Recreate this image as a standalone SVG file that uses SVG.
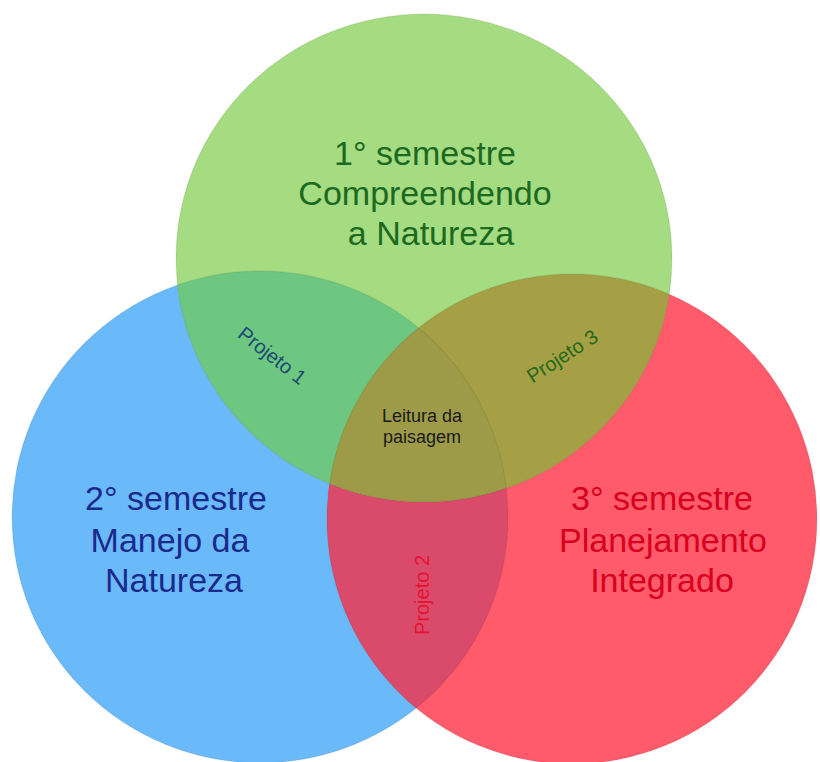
<svg xmlns="http://www.w3.org/2000/svg" width="820" height="762" viewBox="0 0 820 762">
  <style>
    .big { font-family: "Liberation Sans", "Noto Sans", sans-serif; font-size: 34px; text-anchor: middle; }
    .small { font-family: "Liberation Sans", "Noto Sans", sans-serif; font-size: 18px; text-anchor: middle; }
    .proj { font-family: "Liberation Sans", "Noto Sans", sans-serif; font-size: 20px; text-anchor: middle; }
    .edge { fill: none; stroke: #000; stroke-opacity: 0.06; stroke-width: 1.5; }
  </style>
  <defs>
    <ellipse id="cG" cx="424" cy="258" rx="248" ry="244"/>
    <ellipse id="cB" cx="260" cy="517" rx="248" ry="246"/>
    <ellipse id="cR" cx="572" cy="519" rx="245" ry="245"/>
    <clipPath id="clipB"><use href="#cB"/></clipPath>
    <clipPath id="clipR"><use href="#cR"/></clipPath>
  </defs>
  <rect width="820" height="762" fill="#ffffff"/>

  <g id="circles">
    <use href="#cB" fill="#6ab9f9"/>
    <use href="#cR" fill="#ff5b6b"/>
    <use href="#cG" fill="#a5db81"/>
    <use href="#cR" fill="#da4b6b" clip-path="url(#clipB)"/>
    <use href="#cG" fill="#6dc781" clip-path="url(#clipB)"/>
    <use href="#cG" fill="#a5a045" clip-path="url(#clipR)"/>
    <g clip-path="url(#clipB)">
      <use href="#cG" fill="#9e9b48" clip-path="url(#clipR)"/>
    </g>
    <use href="#cB" class="edge"/>
    <use href="#cR" class="edge"/>
    <use href="#cG" class="edge"/>
  </g>

  <g id="semestre1">
    <text class="big" fill="#1c6a1f" x="425" y="165">1° semestre</text>
    <text class="big" fill="#1c6a1f" x="425" y="205">Compreendendo</text>
    <text class="big" fill="#1c6a1f" x="431" y="245">a Natureza</text>
  </g>

  <g id="semestre2">
    <text class="big" fill="#1a2a8c" x="176" y="510">2° semestre</text>
    <text class="big" fill="#1a2a8c" x="170" y="552">Manejo da</text>
    <text class="big" fill="#1a2a8c" x="174" y="592">Natureza</text>
  </g>

  <g id="semestre3">
    <text class="big" fill="#d8001c" x="662" y="510">3° semestre</text>
    <text class="big" fill="#d8001c" x="663" y="552">Planejamento</text>
    <text class="big" fill="#d8001c" x="662" y="592">Integrado</text>
  </g>

  <g id="projeto1">
    <text class="proj" fill="#1d4b73" transform="translate(268,361) rotate(38)">Projeto 1</text>
  </g>
  <g id="projeto3">
    <text class="proj" fill="#256a1a" transform="translate(566,362) rotate(-33)">Projeto 3</text>
  </g>
  <g id="projeto2">
    <text class="proj" fill="#e8112f" transform="translate(429,595) rotate(-90)">Projeto 2</text>
  </g>
  <g id="leitura">
    <text class="small" fill="#1a1a1a" x="422" y="422">Leitura da</text>
    <text class="small" fill="#1a1a1a" x="422" y="443">paisagem</text>
  </g>
</svg>
